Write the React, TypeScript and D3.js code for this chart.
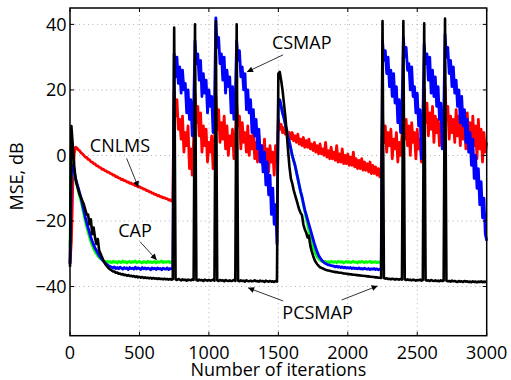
import { useEffect, useRef } from "react";
import * as d3 from "d3";

// iterations between stored samples
const STEP = 10;

// [first iteration, MSE in dB every STEP iterations]
type Segment = [number, number[]];

const cnlms: Segment[] = [
  [0, [
    -33, -26, -9, 0.5, 2.5, 2.3, 1.7, 1.4, 0.8, 0.5,
    0.0, -0.5, -0.6, -1.2, -1.3, -1.9, -2.0, -2.5, -2.6, -3.1,
    -3.2, -3.6, -3.7, -4.2, -4.2, -4.6, -4.7, -5.1, -5.1, -5.5,
    -5.6, -6.0, -6.0, -6.5, -6.5, -6.9, -6.9, -7.4, -7.3, -7.7,
    -7.7, -8.1, -8.1, -8.5, -8.4, -8.8, -8.8, -9.2, -9.2, -9.6,
    -9.5, -9.9, -9.9, -10.3, -10.3, -10.7, -10.7, -11.1, -11.1, -11.5,
    -11.5, -11.9, -11.9, -12.3, -12.2, -12.6, -12.6, -12.9, -12.9, -13.2,
    -13.2, -13.6, -13.5, -13.9, -13.9,
  ]],
  [750, [
    20, 12, 17, 8, 11, 5, 12, 1, 7, 3, 9, -4, 2, -6, 5,
    19, 10, 15, 6, 13, 1, 9, 3, 8, -2, 4, 1, 6, -4, 2,
    18, 8, 14, 4, 10, 5, 12, 2, 9, 0, 6, 3, 8, -1, 5,
    16, 9, 12, 2, 10, 4, 7, 1, 9, 0, 6, 2, 7, -1, 4,
    -2, 6, 0, 3, -3, 5, -4, 2, -5, 3, -2, 1, -6, 3, -2,
  ]],
  [1500, [
    11, 8, 9.5, 7, 8.5, 6.5, 8, 6, 7, 5,
    7, 4.5, 6, 4, 6.5, 3.5, 5, 3, 5.5, 2.5,
    4.5, 2.5, 5, 2, 3.5, 1.5, 4, 1, 3, 0.5,
    3.5, 0.5, 2, 0, 4, -0.5, 1.5, -1, 2.5, -1,
    1, -1.5, 3, -2, 0.5, -2, 2, -2.5, 0, -2.5,
    0.5, -3, -0.5, -3, 1, -3.5, -1, -4, -1.5, -4,
    -1, -4.5, -2, -4.5, -2.5, -5, -2, -5.5, -3, -5.5,
    -3.5, -6, -4, -6.5, -4.5,
  ]],
  [2250, [
    12, 4, 9, 1, 7, 3, 8, -1, 5, 2, 7, -2, 4, 0, 6,
    14, 5, 11, 3, 9, 0, 10, 4, 7, -1, 8, 2, 5, -2, 4,
    20, 10, 16, 6, 13, 8, 15, 4, 12, 7, 11, 3, 10, 5, 8,
    21, 11, 15, 5, 12, 7, 11, 4, 14, 6, 12, 3, 15, 5, 11,
    2, 13, 4, 10, 0, 12, 3, 9, -1, 11, 2, 8, -2, 7, 1, 4,
  ]],
];

const cap: Segment[] = [
  [0, [
    -28, 5, -1, -5, -7.5, -9, -10.8, -12.5, -14, -16,
    -18, -20, -21.7, -23.3, -24.8, -26.2, -27.4, -28.4, -29.3, -30,
    -30.6, -31.1, -31.5, -31.8, -32.1, -32.3, -32.5, -32.3, -32.6, -32.4,
    -32.7, -32.3, -32.6, -32.4, -32.8, -32.3, -32.5, -32.7, -32.2, -32.6,
    -32.4, -32.8, -32.5, -32.3, -32.7, -32.4, -32.6, -32.2, -32.7, -32.5,
    -32.3, -32.6, -32.8, -32.4, -32.5, -32.7, -32.3, -32.6, -32.4, -32.7,
    -32.5, -32.3, -32.8, -32.4, -32.6, -32.5, -32.2, -32.7, -32.4, -32.6,
    -32.5, -32.3, -32.7, -32.4, -32.6,
  ]],
  [1500, [
    16, 17, 15, 13, 11.5, 9.5, 7.5, 5.5, 4, 2,
    0, -1.5, -3, -5, -7, -9, -11, -13, -15, -17,
    -19, -21, -23, -24.8, -26.5, -28, -29.2, -30.2, -31, -31.5,
    -31.9, -32.2, -32.4, -32.5, -32.3, -32.6, -32.4, -32.7, -32.3, -32.5,
    -32.6, -32.4, -32.7, -32.3, -32.5, -32.6, -32.4, -32.8, -32.5, -32.3,
    -32.6, -32.4, -32.7, -32.5, -32.3, -32.6, -32.5, -32.8, -32.4, -32.6,
    -32.3, -32.5, -32.7, -32.4, -32.6, -32.5, -32.3, -32.7, -32.5, -32.6,
    -32.4, -32.7, -32.5, -32.6, -32.4,
  ]],
];

const csmap: Segment[] = [
  [0, [
    -33, -4, -3, -5, -7, -8.5, -10, -11.5, -13, -15,
    -16.8, -18.8, -20.5, -22, -23.5, -25, -26.2, -27.2, -28.2, -29,
    -29.8, -30.5, -31.1, -31.7, -32.2, -32.7, -33.1, -33.4, -33.7, -33.9,
    -34.1, -34.4, -34.0, -34.5, -34.2, -34.6, -34.1, -34.4, -34.7, -34.2,
    -34.5, -34.3, -34.8, -34.2, -34.5, -34.4, -34.7, -34.1, -34.6, -34.3,
    -34.5, -34.8, -34.2, -34.6, -34.3, -34.7, -34.4, -34.5, -34.9, -34.3,
    -34.6, -34.4, -34.8, -34.3, -34.6, -34.5, -34.9, -34.4, -34.6, -34.7,
    -34.3, -34.8, -34.5, -34.6, -34.4,
  ]],
  [750, [
    31, 24, 30, 22, 27, 19, 26, 20, 22, 13, 20, 11, 17, 6, 14,
    35, 28, 31, 23, 29, 18, 25, 19, 23, 13, 20, 15, 18, 7, 15,
    42, 33, 36, 28, 31, 23, 30, 19, 26, 21, 24, 13, 21, 11, 18,
    35, 29, 32, 24, 27, 20, 25, 14, 20, 13, 17, 7, 14, 6, 11,
    2, 8, -2, 3, -5, 1, -9, -2, -12, -6, -18, -10, -21, -15, -27,
  ]],
  [1500, [
    16, 17, 15, 13, 11.5, 9.5, 7.5, 5.5, 4, 2,
    0, -1.5, -3, -5, -7, -9, -11, -12.5, -14.5, -16.5,
    -18, -19.5, -21, -22.5, -24, -25.5, -27, -28.3, -29.5, -30.5,
    -31.2, -31.8, -32.3, -32.7, -33, -33.2, -33.4, -33.5, -33.6, -33.7,
    -33.8, -34.0, -33.8, -34.1, -33.9, -34.2, -34.0, -34.3, -34.1, -34.4,
    -34.2, -34.4, -34.2, -34.5, -34.3, -34.5, -34.4, -34.6, -34.3, -34.6,
    -34.5, -34.7, -34.4, -34.6, -34.7, -34.5, -34.8, -34.6, -34.7, -34.5,
    -34.8, -34.6, -34.9, -34.7, -34.8,
  ]],
  [2250, [
    35, 29, 32, 25, 30, 21, 26, 18, 25, 16, 21, 10, 17, 7, 14,
    36, 30, 33, 26, 28, 20, 27, 18, 21, 13, 19, 9, 14, -1, 10,
    34, 28, 31, 23, 30, 19, 26, 18, 24, 15, 21, 11, 16, 2, 10,
    37, 30, 33, 25, 29, 21, 27, 19, 23, 15, 20, 10, 18, 9, 14,
    4, 11, 1, 7, -3, 5, -7, 0, -10, -4, -15, -8, -19, -13, -24, -26,
  ]],
];

const pcsmap: Segment[] = [
  [0, [
    -34, 9, 3, -3, -7, -9, -10.5, -12, -13, -14,
    -15, -16.5, -18, -18, -21, -19.5, -24, -22, -25, -27,
    -25.5, -29, -30, -31, -32, -32.8, -33.5, -34, -34.5, -34.8,
    -35.1, -35.4, -35.4, -35.8, -35.7, -36.1, -36.0, -36.3, -36.2, -36.5,
    -36.4, -36.7, -36.5, -36.8, -36.7, -36.9, -36.8, -37.1, -36.9, -37.2,
    -37.0, -37.3, -37.1, -37.4, -37.2, -37.4, -37.3, -37.5, -37.3, -37.6,
    -37.4, -37.6, -37.5, -37.7, -37.5, -37.7, -37.6, -37.8, -37.6, -37.8,
    -37.7, -37.9, -37.7, -37.9, -37.8,
  ]],
  [750, [
    39, -37.8, -38.0, -37.7, -37.9, -38.1, -37.8, -38.0, -37.9, -38.2, -37.9, -38.0, -38.1, -37.8, -38.0,
    40, -38.0, -38.2, -37.9, -38.1, -38.0, -38.3, -37.9, -38.1, -38.2, -38.0, -38.2, -38.1, -37.9, -38.2,
    41, -38.1, -38.3, -38.0, -38.2, -38.1, -38.4, -38.0, -38.2, -38.3, -38.1, -38.3, -38.2, -38.0, -38.3,
    40, -38.2, -38.4, -38.1, -38.3, -38.2, -38.5, -38.1, -38.3, -38.4, -38.2, -38.4, -38.3, -38.1, -38.4,
    -38.3, -38.5, -38.2, -38.4, -38.3, -38.6, -38.2, -38.4, -38.5, -38.3, -38.5, -38.4, -38.6, -38.3, -38.5,
  ]],
  [1500, [
    25, 25.5, 23, 20, 16, 12, 7, 1.5, -3.5, -7,
    -8.5, -10.5, -12, -13.5, -15, -16.5, -17.5, -18.2, -21, -22.5,
    -23.5, -25, -24.5, -27.5, -29.2, -30.6, -31.8, -32.6, -33.2, -33.7,
    -34.1, -34.3, -34.5, -34.7, -34.9, -35.0, -35.1, -35.2, -35.3, -35.4,
    -35.5, -35.6, -35.6, -35.7, -35.8, -35.8, -35.9, -36.0, -36.0, -36.1,
    -36.2, -36.2, -36.3, -36.3, -36.4, -36.4, -36.5, -36.5, -36.6, -36.6,
    -36.7, -36.7, -36.8, -36.8, -36.9, -36.9, -37.0, -37.0, -37.1, -37.1,
    -37.2, -37.2, -37.3, -37.3, -37.4,
  ]],
  [2250, [
    41, -37.4, -37.6, -37.5, -37.7, -37.6, -37.8, -37.6, -37.7, -37.9, -37.7, -37.8, -37.9, -37.7, -37.9,
    41, -37.8, -38.0, -37.8, -38.0, -37.9, -38.1, -37.9, -38.0, -38.2, -38.0, -38.1, -37.9, -38.2, -38.0,
    40.3, -38.0, -38.2, -38.1, -38.3, -38.0, -38.2, -38.3, -38.1, -38.3, -38.2, -38.4, -38.1, -38.3, -38.2,
    41.8, -38.2, -38.4, -38.3, -38.5, -38.2, -38.4, -38.3, -38.5, -38.6, -38.3, -38.5, -38.4, -38.6, -38.3,
    -38.5, -38.4, -38.6, -38.5, -38.7, -38.4, -38.6, -38.5, -38.7, -38.5, -38.6, -38.4, -38.7, -38.5, -38.6, -38.5,
  ]],
];

const xTicks = [0, 500, 1000, 1500, 2000, 2500, 3000];
const yTicks = [-40, -20, 0, 20, 40];

// label text, where it sits, and arrow(s) from -> to, all in data units
const notes = [
  { text: "CNLMS", at: [360, 1.2], arrows: [[[408, -0.9], [492, -9.7]]] },
  { text: "CAP", at: [468, -24.9], arrows: [[[504, -26.3], [624, -31.9]]] },
  { text: "CSMAP", at: [1668, 32.4], arrows: [[[1534, 30.7], [1274, 25.5]]] },
  {
    text: "PCSMAP",
    at: [1782, -50],
    arrows: [
      [[1534, -44.4], [1282, -40.4]],
      [[1956, -44.1], [2215, -39.8]],
    ],
  },
];

type Pt = [number, number] | null;

function toPoints(segs: Segment[]): Pt[] {
  const pts: Pt[] = [];
  let next = -1;
  segs.forEach(([start, vals]) => {
    if (next >= 0 && start !== next) pts.push(null);
    vals.forEach((v, i) => pts.push([start + i * STEP, v]));
    next = start + vals.length * STEP;
  });
  return pts;
}

const fmt = (v: number) => (v < 0 ? "\u2212" + Math.abs(v) : String(v));

export default function App() {
  const svgRef = useRef<SVGSVGElement>(null);

  useEffect(() => {
    if (!svgRef.current) return;
    const svg = d3.select(svgRef.current);
    svg.selectAll("*").remove();

    const W = 511;
    const H = 380;
    const margin = { top: 8, right: 24.3, bottom: 44.3, left: 70 };
    const x = d3.scaleLinear().domain([0, 3000]).range([margin.left, W - margin.right]);
    const y = d3.scaleLinear().domain([-55, 45]).range([H - margin.bottom, margin.top]);
    const font = "'Open Sans', sans-serif";

    svg
      .append("defs")
      .append("marker")
      .attr("id", "head")
      .attr("markerUnits", "userSpaceOnUse")
      .attr("viewBox", "0 0 10 10")
      .attr("refX", 10)
      .attr("refY", 5)
      .attr("markerWidth", 8)
      .attr("markerHeight", 6)
      .attr("orient", "auto")
      .append("path")
      .attr("d", "M0,0L10,5L0,10z")
      .attr("fill", "#000");

    svg.append("rect").attr("width", W).attr("height", H).attr("fill", "#fff");

    // dotted grid
    const grid = svg.append("g").attr("stroke", "#b0b0b0").attr("stroke-width", 1).attr("stroke-dasharray", "1,3.5");
    grid
      .selectAll("line.gx")
      .data(xTicks.slice(1, -1))
      .join("line")
      .attr("x1", (d) => x(d))
      .attr("x2", (d) => x(d))
      .attr("y1", y(-55))
      .attr("y2", y(45));
    grid
      .selectAll("line.gy")
      .data(yTicks)
      .join("line")
      .attr("x1", x(0))
      .attr("x2", x(3000))
      .attr("y1", (d) => y(d))
      .attr("y2", (d) => y(d));

    // curves
    const line = d3
      .line<Pt>()
      .defined((d) => d !== null)
      .x((d) => x(d![0]))
      .y((d) => y(d![1]));

    const series: [Segment[], string, number][] = [
      [cnlms, "#ff0000", 2.8],
      [cap, "#00ff00", 2.8],
      [csmap, "#0000ff", 2.8],
      [pcsmap, "#000000", 2.6],
    ];
    series.forEach(([segs, color, w]) => {
      svg
        .append("path")
        .attr("d", line(toPoints(segs)))
        .attr("fill", "none")
        .attr("stroke", color)
        .attr("stroke-width", w)
        .attr("stroke-linejoin", "round");
    });

    // box + inward ticks
    svg
      .append("rect")
      .attr("x", x(0))
      .attr("y", y(45))
      .attr("width", x(3000) - x(0))
      .attr("height", y(-55) - y(45))
      .attr("fill", "none")
      .attr("stroke", "#000")
      .attr("stroke-width", 1.5);
    const tk = svg.append("g").attr("stroke", "#000").attr("stroke-width", 1);
    xTicks.forEach((t) => {
      tk.append("line").attr("x1", x(t)).attr("x2", x(t)).attr("y1", y(-55)).attr("y2", y(-55) - 4);
      tk.append("line").attr("x1", x(t)).attr("x2", x(t)).attr("y1", y(45)).attr("y2", y(45) + 4);
    });
    yTicks.forEach((t) => {
      tk.append("line").attr("x1", x(0)).attr("x2", x(0) + 4).attr("y1", y(t)).attr("y2", y(t));
      tk.append("line").attr("x1", x(3000)).attr("x2", x(3000) - 4).attr("y1", y(t)).attr("y2", y(t));
    });

    const txt = svg.append("g").attr("font-family", font).attr("font-size", 18).attr("fill", "#000");
    txt
      .selectAll("text.xt")
      .data(xTicks)
      .join("text")
      .attr("x", (d) => x(d))
      .attr("y", 359)
      .attr("text-anchor", "middle")
      .text((d) => String(d));
    txt
      .selectAll("text.yt")
      .data(yTicks)
      .join("text")
      .attr("x", 66.5)
      .attr("y", (d) => y(d))
      .attr("dy", "0.36em")
      .attr("text-anchor", "end")
      .text((d) => fmt(d));
    txt
      .append("text")
      .attr("x", (x(0) + x(3000)) / 2)
      .attr("y", 376)
      .attr("text-anchor", "middle")
      .text("Number of iterations");
    txt
      .append("text")
      .attr("transform", "translate(23,176.5) rotate(-90)")
      .attr("text-anchor", "middle")
      .text("MSE, dB");

    // annotations
    notes.forEach((n) => {
      txt
        .append("text")
        .attr("x", x(n.at[0]))
        .attr("y", y(n.at[1]))
        .attr("text-anchor", "middle")
        .text(n.text);
      n.arrows.forEach(([a, b]) => {
        svg
          .append("line")
          .attr("x1", x(a[0]))
          .attr("y1", y(a[1]))
          .attr("x2", x(b[0]))
          .attr("y2", y(b[1]))
          .attr("stroke", "#000")
          .attr("stroke-width", 0.8)
          .attr("marker-end", "url(#head)");
      });
    });
  }, []);

  return (
    <svg
      ref={svgRef}
      width={511}
      height={380}
      style={{ position: "absolute", left: 0, top: 0, display: "block" }}
    />
  );
}
